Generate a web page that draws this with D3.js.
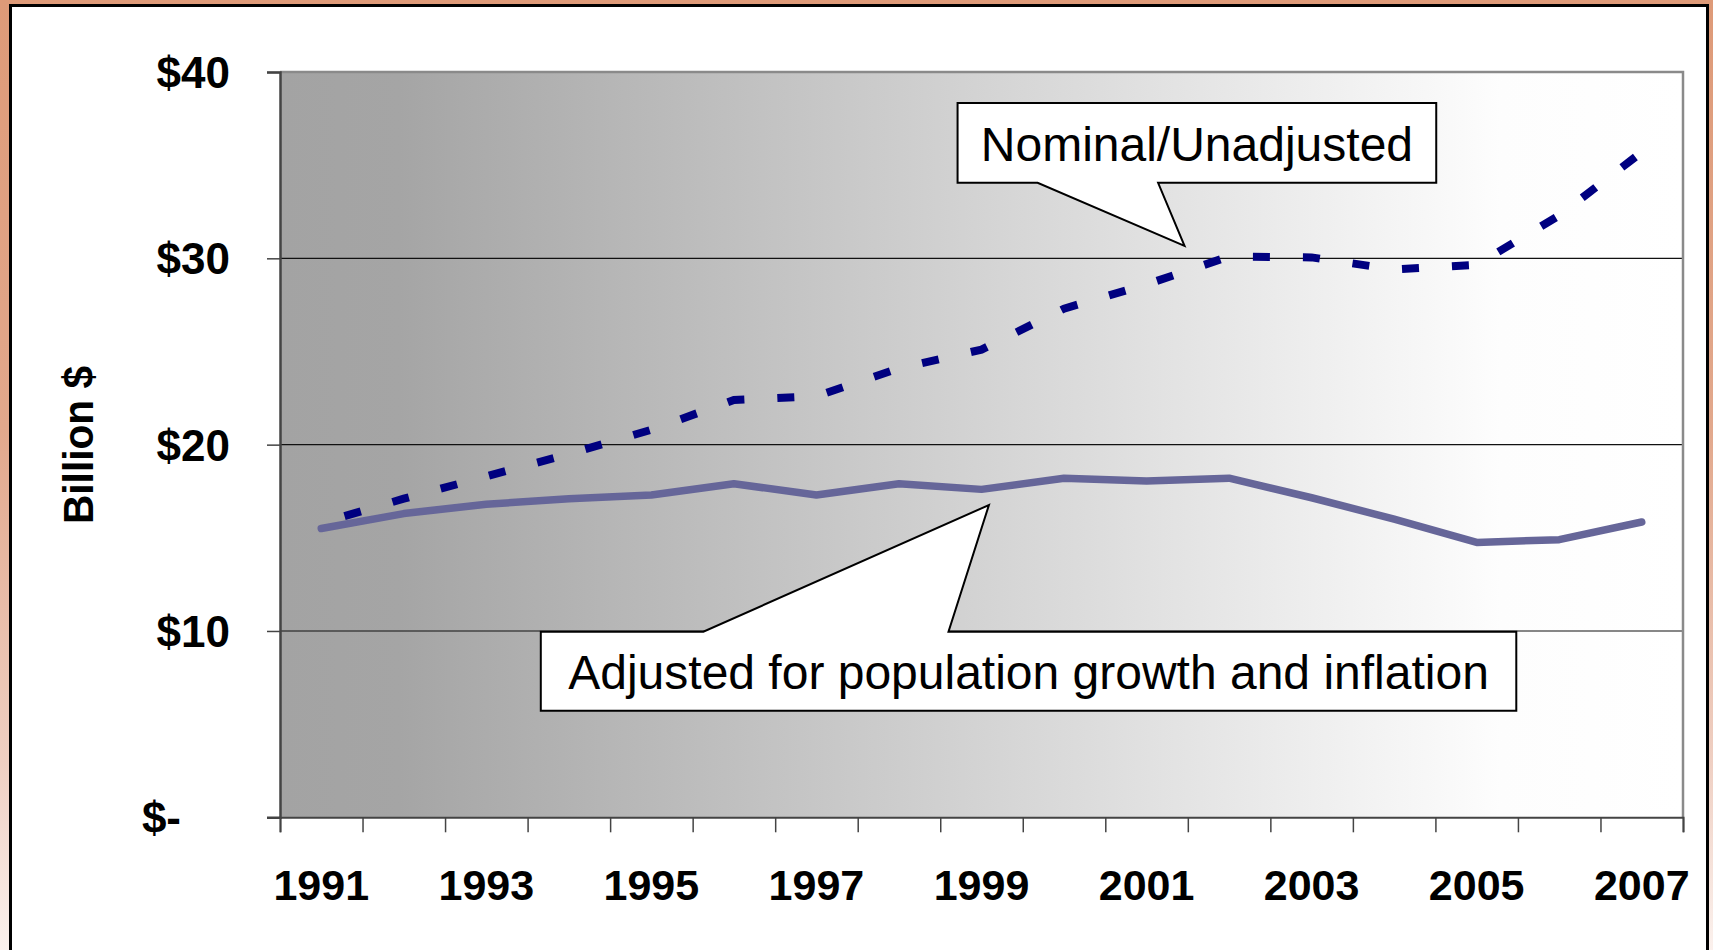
<!DOCTYPE html>
<html>
<head>
<meta charset="utf-8">
<script src="https://cdn.jsdelivr.net/npm/d3@7"></script>
<style>
  html, body { margin: 0; padding: 0; overflow: hidden; }
  body { width: 1713px; height: 950px; }
  svg { display: block; font-family: "Liberation Sans", Arial, sans-serif; }
</style>
</head>
<body>
<div id="chart"></div>
<script>
var years = [1991, 1992, 1993, 1994, 1995, 1996, 1997, 1998, 1999, 2000, 2001, 2002, 2003, 2004, 2005, 2006, 2007];
var yearLabels = [1991, 1993, 1995, 1997, 1999, 2001, 2003, 2005, 2007];
var nominal = [15.8, 17.1, 18.3, 19.5, 20.8, 22.4, 22.6, 24.1, 25.1, 27.3, 28.6, 30.1, 30.05, 29.4, 29.65, 32.3, 35.7];
var adjusted = [15.5, 16.3, 16.8, 17.1, 17.3, 17.9, 17.3, 17.9, 17.6, 18.2, 18.05, 18.2, 17.15, 16.0, 14.75, 14.9, 15.85];
var yTicks = [0, 10, 20, 30, 40];

// callouts placed in data units: box [year left, year right, value top, value bottom]
var callouts = [
  {text: "Nominal/Unadjusted", box: [1998.71, 2004.51, 38.34, 34.05], base: [1999.68, 2001.14], tip: [2001.46, 30.67], side: "bottom"},
  {text: "Adjusted for population growth and inflation", box: [1993.66, 2005.48, 9.96, 5.72], base: [1995.63, 1998.60], tip: [1999.09, 16.76], side: "top"}
];

var W = 1713, H = 950;
var plotL = 280, plotR = 1683, plotT = 72, plotB = 817.3;

var svg = d3.select('#chart').append('svg')
  .attr('width', W).attr('height', H);

var defs = svg.append('defs');
var bg = defs.append('linearGradient').attr('id', 'pageBg')
  .attr('x1', 0).attr('y1', 0).attr('x2', 0).attr('y2', 1);
bg.append('stop').attr('offset', '0%').attr('stop-color', '#de9a78');
bg.append('stop').attr('offset', '45%').attr('stop-color', '#e2a88c');
bg.append('stop').attr('offset', '80%').attr('stop-color', '#efcfc2');
bg.append('stop').attr('offset', '100%').attr('stop-color', '#fbf1ed');

var pg = defs.append('linearGradient').attr('id', 'plotBg')
  .attr('x1', 0).attr('y1', 0).attr('x2', 1).attr('y2', 0);
pg.append('stop').attr('offset', '0%').attr('stop-color', '#a3a3a3');
pg.append('stop').attr('offset', '8.5%').attr('stop-color', '#a5a5a5');
pg.append('stop').attr('offset', '87%').attr('stop-color', '#fdfdfd');
pg.append('stop').attr('offset', '100%').attr('stop-color', '#ffffff');

svg.append('rect').attr('width', W).attr('height', H).attr('fill', 'url(#pageBg)');
svg.append('rect')
  .attr('x', 10.5).attr('y', 5.5).attr('width', 1697).attr('height', 1000)
  .attr('fill', '#ffffff').attr('stroke', '#000').attr('stroke-width', 3);

var x = d3.scaleBand().domain(years).range([plotL, plotR]).padding(0);
var bw = x.bandwidth();
var xc = d3.scaleLinear().domain([1991, 2007]).range([x(1991) + bw / 2, x(2007) + bw / 2]);
var xt = d3.scaleLinear().domain([0, years.length]).range([plotL, plotR]);
var y = d3.scaleLinear().domain([0, 40]).range([plotB, plotT]);

// plot area
svg.append('rect')
  .attr('x', plotL).attr('y', plotT).attr('width', plotR - plotL).attr('height', plotB - plotT)
  .attr('fill', 'url(#plotBg)');

svg.append('g').selectAll('line')
  .data(yTicks.filter(function(d){ return d > 0 && d < 40; }))
  .enter().append('line')
  .attr('x1', plotL).attr('x2', plotR)
  .attr('y1', function(d){ return y(d); }).attr('y2', function(d){ return y(d); })
  .attr('stroke', '#111').attr('stroke-width', 1.2);

// top and right border
svg.append('path')
  .attr('d', 'M' + plotL + ',' + plotT + 'H' + plotR + 'V' + plotB)
  .attr('fill', 'none').attr('stroke', '#8a8a8a').attr('stroke-width', 2.5);

// y axis
var yAxis = svg.append('g')
  .attr('transform', 'translate(' + plotL + ',0)')
  .call(d3.axisLeft(y).tickValues(yTicks).tickSize(13).tickPadding(37)
    .tickFormat(function(d){ return d === 0 ? '$-' : '$' + d; }));
yAxis.select('.domain').attr('stroke', '#444').attr('stroke-width', 2.5);
yAxis.selectAll('.tick line').attr('stroke', '#444').attr('stroke-width', 1.5);
yAxis.selectAll('.tick text')
  .attr('fill', '#000').style('font-size', '44px').style('font-weight', 'bold')
  .style('font-family', '"Liberation Sans", Arial, sans-serif')
  .attr('dy', '0.35em');
yAxis.selectAll('.tick text').filter(function(d){ return d === 0; })
  .attr('x', -50 - 49);

// x axis
var xAxis = svg.append('g')
  .attr('transform', 'translate(0,' + plotB + ')')
  .call(d3.axisBottom(xt).tickValues(d3.range(years.length + 1)).tickSize(15).tickFormat(''));
xAxis.select('.domain').attr('stroke', '#444').attr('stroke-width', 2);
xAxis.selectAll('.tick line').attr('stroke', '#444').attr('stroke-width', 1.5);

svg.append('g').selectAll('text')
  .data(yearLabels)
  .enter().append('text')
  .attr('x', function(d){ return x(d) + bw / 2; })
  .attr('y', 900)
  .attr('text-anchor', 'middle')
  .style('font-size', '43px').style('font-weight', 'bold')
  .text(function(d){ return d; });

svg.append('text')
  .attr('transform', 'translate(93,445) rotate(-90)')
  .attr('text-anchor', 'middle')
  .attr('textLength', 158).attr('lengthAdjust', 'spacingAndGlyphs')
  .style('font-size', '42px').style('font-weight', 'bold')
  .text('Billion $');

// lines
var line = d3.line()
  .x(function(d, i){ return x(years[i]) + bw / 2; })
  .y(function(d){ return y(d); });

var nomPath = svg.append('path')
  .datum(nominal)
  .attr('d', line)
  .attr('fill', 'none')
  .attr('stroke', '#000080')
  .attr('stroke-width', 8)
  .attr('stroke-dasharray', '17,33');
// shift the dash pattern so a dash ends just short of the 2007 point
var len = nomPath.node().getTotalLength();
nomPath.attr('stroke-dashoffset', (((17 + 8 - len) % 50) + 50) % 50);

svg.append('path')
  .datum(adjusted)
  .attr('d', line)
  .attr('fill', 'none')
  .attr('stroke', '#666699')
  .attr('stroke-width', 7.5)
  .attr('stroke-linejoin', 'round')
  .attr('stroke-linecap', 'round');

// callouts
callouts.forEach(function(c){
  var l = xc(c.box[0]), r = xc(c.box[1]), t = y(c.box[2]), b = y(c.box[3]);
  var b1 = xc(c.base[0]), b2 = xc(c.base[1]);
  var tx = xc(c.tip[0]), ty = y(c.tip[1]);
  var d;
  if (c.side === 'bottom') {
    d = 'M' + l + ',' + t + 'L' + r + ',' + t + 'L' + r + ',' + b + 'L' + b2 + ',' + b +
        'L' + tx + ',' + ty + 'L' + b1 + ',' + b + 'L' + l + ',' + b + 'Z';
  } else {
    d = 'M' + l + ',' + t + 'L' + b1 + ',' + t + 'L' + tx + ',' + ty + 'L' + b2 + ',' + t +
        'L' + r + ',' + t + 'L' + r + ',' + b + 'L' + l + ',' + b + 'Z';
  }
  svg.append('path').attr('d', d)
    .attr('fill', '#fff').attr('stroke', '#000').attr('stroke-width', 2)
    .attr('stroke-linejoin', 'miter');
  svg.append('text')
    .attr('x', (l + r) / 2).attr('y', (t + b) / 2 + 18)
    .attr('text-anchor', 'middle')
    .style('font-size', '48px')
    .text(c.text);
});
</script>
</body>
</html>
